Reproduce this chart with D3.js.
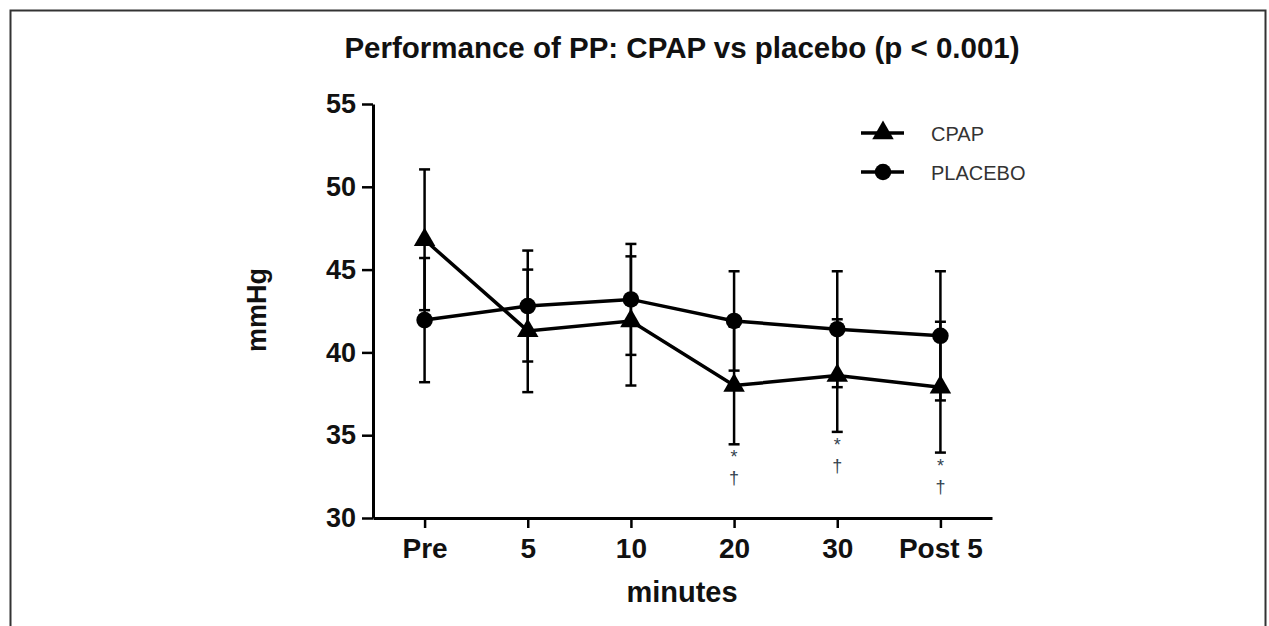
<!DOCTYPE html>
<html>
<head>
<meta charset="utf-8">
<script src="https://cdn.jsdelivr.net/npm/d3@7"></script>
<style>
    body { margin: 0; background: #fff; }
    svg text { font-family: "Liberation Sans", Arial, sans-serif; }
</style>
</head>
<body>
<div class="chart"></div>
<script>
// values (mean and +/- error, mmHg)
const categories = ["Pre", "5", "10", "20", "30", "Post 5"];
const cpapMean = [46.8, 41.3, 41.9, 38.0, 38.6, 37.9];
const cpapErr = [4.25, 3.7, 3.9, 3.55, 3.4, 3.95];
const placeboMean = [41.95, 42.8, 43.2, 41.9, 41.4, 41.0];
const placeboErr = [3.75, 3.35, 3.35, 3.0, 3.5, 3.9];
const yTicks = [30, 35, 40, 45, 50, 55];
const marked = ["20", "30", "Post 5"];   // * and † under CPAP

const series = [
    { name: "CPAP", mean: cpapMean, err: cpapErr, symbol: d3.symbolTriangle, size: 200 },
    { name: "PLACEBO", mean: placeboMean, err: placeboErr, symbol: d3.symbolCircle, size: 215 }
];

const W = 1269, H = 626;

let svg = d3.select(".chart")
    .append("svg")
    .attr("width", W)
    .attr("height", H);

// frame (bottom edge is cut off in the picture)
svg.append("rect")
    .attr("x", 10.5).attr("y", 10.5)
    .attr("width", 1255).attr("height", 640)
    .attr("fill", "none")
    .attr("stroke", "#333")
    .attr("stroke-width", 2);

// scales
let xScale = d3.scalePoint()
    .domain(categories)
    .range([373, 992])
    .padding(0.5);

let yScale = d3.scaleLinear()
    .domain([30, 55])
    .range([518, 104]);

// axes
const xAxis = d3.axisBottom(xScale)
    .tickSize(10)
    .tickSizeOuter(0)
    .tickPadding(10);

const yAxis = d3.axisLeft(yScale)
    .tickValues(yTicks)
    .tickSize(11)
    .tickSizeOuter(0)
    .tickPadding(6);

let xDisplay = svg.append("g")
    .attr("transform", "translate(0,518)")
    .call(xAxis);

let yDisplay = svg.append("g")
    .attr("transform", "translate(373,0)")
    .call(yAxis);

[xDisplay, yDisplay].forEach(g => {
    g.select(".domain").attr("stroke", "#000").attr("stroke-width", 3);
    g.selectAll(".tick line").attr("stroke", "#000").attr("stroke-width", 2.5);
    g.selectAll(".tick text")
        .attr("fill", "#111")
        .style("font-weight", "bold")
        .style("font-size", "27px");
});
xDisplay.selectAll(".tick text").style("font-size", "28px");

// titles
svg.append("text")
    .attr("x", 682)
    .attr("y", 58)
    .attr("text-anchor", "middle")
    .style("font-size", "29.5px")
    .style("font-weight", "bold")
    .attr("fill", "#111")
    .text("Performance of PP: CPAP vs placebo (p < 0.001)");

svg.append("text")
    .attr("x", 682)
    .attr("y", 602)
    .attr("text-anchor", "middle")
    .style("font-size", "29px")
    .style("font-weight", "bold")
    .attr("fill", "#111")
    .text("minutes");

svg.append("text")
    .attr("transform", "translate(266,310) rotate(-90)")
    .attr("text-anchor", "middle")
    .style("font-size", "27px")
    .style("font-weight", "bold")
    .attr("fill", "#111")
    .text("mmHg");

// lines
let line = d3.line()
    .x((d, i) => xScale(categories[i]))
    .y(d => yScale(d));

let plot = svg.append("g");

series.forEach(s => {
    plot.append("path")
        .datum(s.mean)
        .attr("fill", "none")
        .attr("stroke", "#000")
        .attr("stroke-width", 3.5)
        .attr("d", line);
});

// error bars
series.forEach(s => {
    let bars = plot.selectAll(null)
        .data(s.mean.map((m, i) => ({ cat: categories[i], lo: m - s.err[i], hi: m + s.err[i] })))
        .enter()
        .append("g")
        .attr("stroke", "#000")
        .attr("stroke-width", 2.5);

    bars.append("line")
        .attr("x1", d => xScale(d.cat)).attr("x2", d => xScale(d.cat))
        .attr("y1", d => yScale(d.lo)).attr("y2", d => yScale(d.hi));

    ["lo", "hi"].forEach(k => {
        bars.append("line")
            .attr("x1", d => xScale(d.cat) - 5.5).attr("x2", d => xScale(d.cat) + 5.5)
            .attr("y1", d => yScale(d[k])).attr("y2", d => yScale(d[k]));
    });
});

// markers
series.forEach(s => {
    plot.selectAll(null)
        .data(s.mean)
        .enter()
        .append("path")
        .attr("transform", (d, i) => `translate(${xScale(categories[i])},${yScale(d)})`)
        .attr("d", d3.symbol().type(s.symbol).size(s.size))
        .attr("fill", "#000");
});

// significance marks under the CPAP error bars
let sig = plot.selectAll(".sig")
    .data(marked.map(c => {
        let i = categories.indexOf(c);
        return { cat: c, lo: cpapMean[i] - cpapErr[i] };
    }))
    .enter()
    .append("g")
    .attr("class", "sig")
    .attr("fill", "#34434f")
    .style("font-size", "18px")
    .attr("text-anchor", "middle");

sig.append("text")
    .attr("x", d => xScale(d.cat))
    .attr("y", d => yScale(d.lo) + 19)
    .text("*");

sig.append("text")
    .attr("x", d => xScale(d.cat))
    .attr("y", d => yScale(d.lo) + 40)
    .text("†");

// legend
let legend = svg.append("g")
    .selectAll("g")
    .data(series)
    .enter()
    .append("g")
    .attr("transform", (d, i) => `translate(861,${133 + i * 39})`);

legend.append("line")
    .attr("x1", 0).attr("x2", 43)
    .attr("stroke", "#000")
    .attr("stroke-width", 3.5);

legend.append("path")
    .attr("transform", "translate(22,0)")
    .attr("d", d => d3.symbol().type(d.symbol).size(d.size)())
    .attr("fill", "#000");

legend.append("text")
    .attr("x", 70)
    .attr("y", 8)
    .style("font-size", "20px")
    .attr("fill", "#333")
    .text(d => d.name);
</script>
</body>
</html>
